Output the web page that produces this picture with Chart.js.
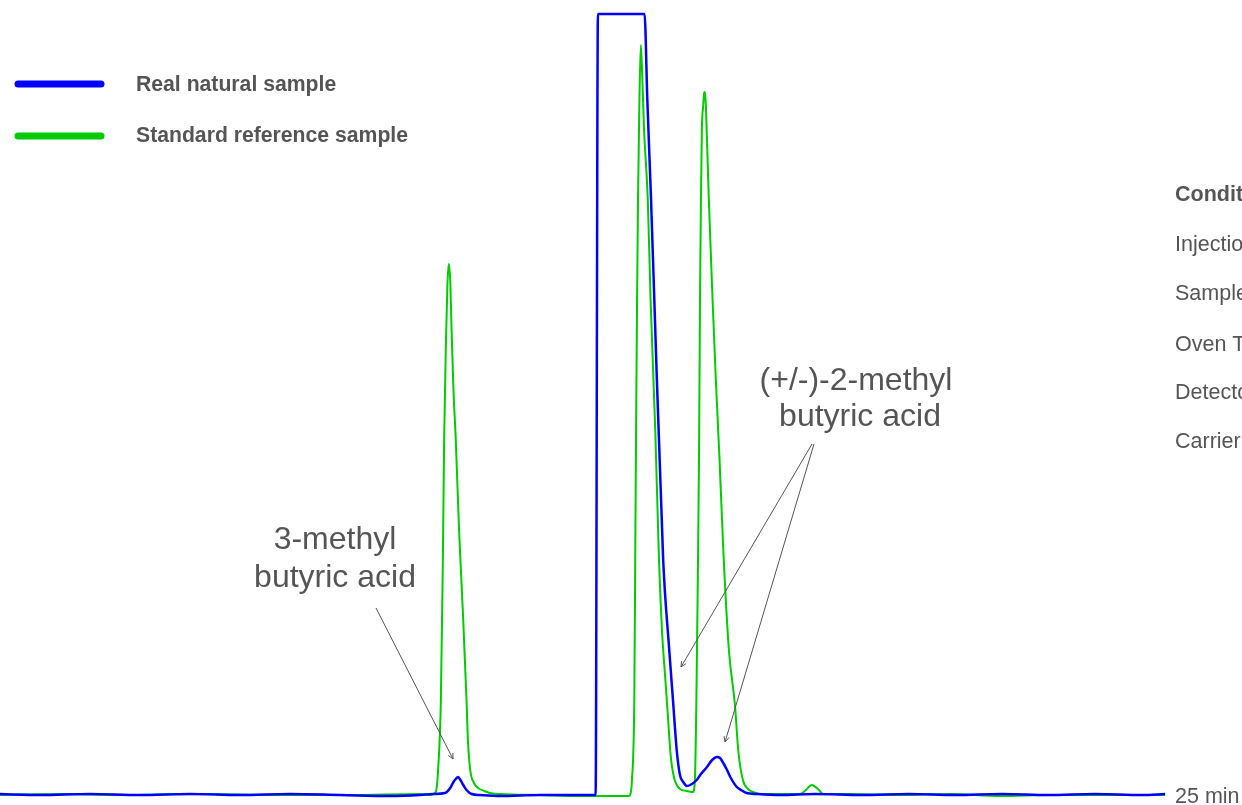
<!DOCTYPE html>
<html>
<head>
<meta charset="utf-8">
<title>GC chromatogram - methyl butyric acids</title>
<script src="https://cdn.jsdelivr.net/npm/chart.js@4.4.1/dist/chart.umd.min.js"></script>
<style>
    html, body { margin: 0; padding: 0; background: #fff; overflow: hidden; }
    #wrap { position: relative; width: 1242px; height: 805px; }
</style>
</head>
<body>
<div id="wrap"><canvas id="gcChart" width="1242" height="805"></canvas></div>
<script>
// retention time (min) and detector signal (arbitrary units)
const standardTime = [0.00, 1.29, 2.58, 4.29, 6.01, 7.51, 9.01, 9.23,
    9.35, 9.40, 9.46, 9.50, 9.53, 9.57, 9.60, 9.63, 9.66, 9.69, 9.73, 9.78, 9.85, 9.94, 10.01, 10.04, 10.09, 10.17, 10.26, 10.39, 10.51, 10.73,
    11.59, 12.45, 13.50,
    13.52, 13.56, 13.61, 13.63, 13.65, 13.67, 13.69, 13.72, 13.75, 13.78, 13.82, 13.90, 13.96, 14.06, 14.14, 14.21, 14.27, 14.33, 14.39, 14.46, 14.59, 14.74, 14.87,
    14.91, 14.98, 15.00, 15.02, 15.04, 15.06, 15.09, 15.11, 15.14, 15.17, 15.21, 15.29, 15.36, 15.44, 15.52, 15.64, 15.77, 15.84, 15.94, 16.05, 16.16, 16.31,
    17.17, 17.27, 17.42, 17.55, 17.66, 18.24, 19.31, 20.39, 21.46, 22.53, 23.61, 25.00];
const standardSignal = [0, 1, 0, 1, 0, 0, 1, 0,
    3, 25, 95, 225, 355, 455, 510, 531, 515, 465, 405, 355, 265, 175, 95, 55, 25, 12, 7, 4, 2, 1,
    0, -1, -1,
    0, 15, 95, 235, 375, 495, 595, 695, 750, 720, 665, 595, 495, 365, 236, 160, 120, 80, 40, 18, 6, 4, 3,
    15, 245, 345, 495, 595, 665, 690, 703, 695, 655, 595, 495, 415, 335, 245, 145, 90, 45, 15, 6, 3, 1,
    1, 4, 10, 6, 1, 1, 0, 1, -1, 0, 0, 0];

const naturalTime = [0.00, 0.86, 1.93, 3.00, 4.08, 5.15, 6.22, 7.30, 8.37, 9.01, 9.29,
    9.55, 9.66, 9.73, 9.78, 9.83, 9.88, 9.94, 10.01, 10.12, 10.30, 10.73, 11.59, 12.45, 12.78,
    12.83, 13.83, 13.89, 13.97, 14.04, 14.23, 14.36, 14.44, 14.52, 14.59, 14.66, 14.74,
    14.81, 14.95, 15.04, 15.17, 15.28, 15.38, 15.45, 15.52, 15.60, 15.67, 15.81, 15.90, 16.02, 16.24, 16.74,
    17.50, 18.50, 19.50, 20.50, 21.50, 22.50, 23.50, 24.50, 25.00];
const naturalSignal = [1, 0, 1, 0, 1, 0, 1, 0, -1, 0, 1,
    2, 7, 13, 16, 18, 15, 10, 5, 1, 0, -1, 0, 0, 0,
    781, 781, 695, 595, 495, 235, 145, 95, 45, 20, 13, 9,
    10, 15, 21, 28, 35, 38, 37, 32, 25, 18, 8, 5, 2, 1, 0,
    1, 0, 1, 0, 1, 0, 1, 0, 1];

const seriesNames = ['Real natural sample', 'Standard reference sample'];
const seriesColors = ['#0000ff', '#00cc00'];
const axisEndLabel = '25 min';
const peakLabels = [['3-methyl', 'butyric acid'], ['(+/-)-2-methyl', 'butyric acid']];
const conditionLines = ['Conditions', 'Injection', 'Sample', 'Oven Temperature', 'Detector', 'Carrier gas'];

const TEXT_GREY = '#555';
const SANS = '"Liberation Sans", Arial, Helvetica, sans-serif';

function toPoints(xs, ys) {
    return xs.map((x, i) => ({ x: x, y: ys[i] }));
}

function arrow(ctx, x1, y1, x2, y2) {
    const ang = Math.atan2(y2 - y1, x2 - x1);
    const len = 6;
    ctx.beginPath();
    ctx.moveTo(x1, y1);
    ctx.lineTo(x2, y2);
    ctx.moveTo(x2 - len * Math.cos(ang - 0.45), y2 - len * Math.sin(ang - 0.45));
    ctx.lineTo(x2, y2);
    ctx.lineTo(x2 - len * Math.cos(ang + 0.45), y2 - len * Math.sin(ang + 0.45));
    ctx.stroke();
}

// legend, peak labels and the condition text are drawn straight onto the canvas
const decorations = {
    id: 'decorations',
    afterDatasetsDraw(chart) {
        const ctx = chart.ctx;
        ctx.save();

        // legend swatches
        ctx.lineCap = 'round';
        ctx.lineWidth = 7;
        [84, 136].forEach((y, i) => {
            ctx.strokeStyle = seriesColors[i];
            ctx.beginPath();
            ctx.moveTo(18, y);
            ctx.lineTo(101, y);
            ctx.stroke();
        });

        ctx.fillStyle = TEXT_GREY;
        ctx.textAlign = 'left';
        ctx.textBaseline = 'alphabetic';
        ctx.font = 'bold 21.2px ' + SANS;
        ctx.fillText(seriesNames[0], 136, 91);
        ctx.fillText(seriesNames[1], 136, 142);

        // pointer arrows
        ctx.lineCap = 'butt';
        ctx.lineWidth = 1;
        ctx.strokeStyle = '#555';
        arrow(ctx, 376, 608, 453, 759);
        arrow(ctx, 812, 444, 681, 667);
        arrow(ctx, 814, 444, 725, 742);

        // peak labels
        ctx.font = '32px ' + SANS;
        ctx.textAlign = 'center';
        ctx.fillText(peakLabels[0][0], 335, 549);
        ctx.fillText(peakLabels[0][1], 335, 587);
        ctx.fillText(peakLabels[1][0], 856, 390);
        ctx.fillText(peakLabels[1][1], 860, 426);

        // conditions block, runs off the right edge
        ctx.textAlign = 'left';
        const rows = [201, 251, 300, 351, 399, 448];
        conditionLines.forEach((txt, i) => {
            ctx.font = (i === 0 ? 'bold ' : '') + '21.5px ' + SANS;
            ctx.fillText(txt, 1175, rows[i]);
        });

        // end of run marker
        ctx.font = '21.5px ' + SANS;
        ctx.fillText(axisEndLabel, 1175, 803);

        ctx.restore();
    }
};

const ctx = document.getElementById('gcChart').getContext('2d');
new Chart(ctx, {
    type: 'line',
    data: {
        datasets: [
            {
                label: seriesNames[1],
                data: toPoints(standardTime, standardSignal),
                borderColor: seriesColors[1],
                borderWidth: 2,
                cubicInterpolationMode: 'monotone',
                pointRadius: 0,
                fill: false,
                order: 2
            },
            {
                label: seriesNames[0],
                data: toPoints(naturalTime, naturalSignal),
                borderColor: seriesColors[0],
                borderWidth: 2.5,
                cubicInterpolationMode: 'monotone',
                pointRadius: 0,
                fill: false,
                order: 1
            }
        ]
    },
    options: {
        responsive: false,
        animation: false,
        layout: { padding: 0 },
        plugins: {
            legend: { display: false },
            tooltip: { enabled: false },
            title: { display: false }
        },
        scales: {
            x: { type: 'linear', min: 0, max: 26.65, display: false },
            y: { min: -10, max: 795, display: false }
        }
    },
    plugins: [decorations]
});
</script>
</body>
</html>
